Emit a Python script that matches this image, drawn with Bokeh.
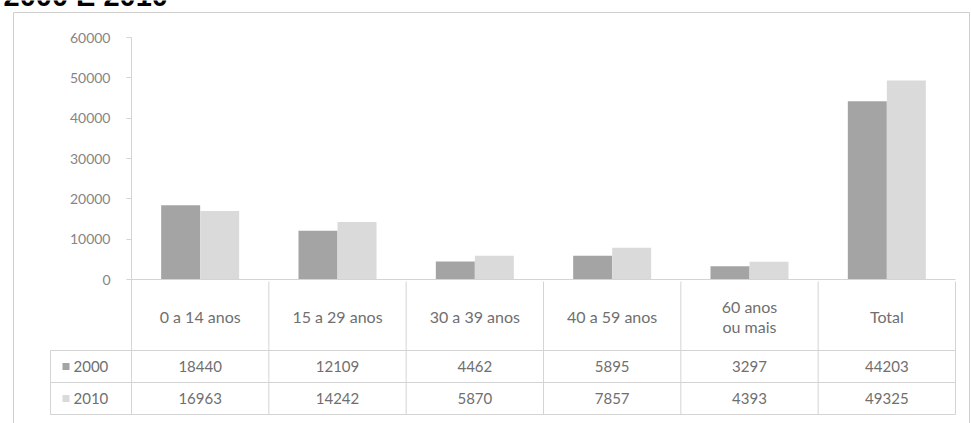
from bokeh.plotting import figure
from bokeh.models import ColumnDataSource, Range1d, FixedTicker, LinearAxis
from bokeh.transform import dodge
from bokeh.core.properties import value
from bokeh.embed import file_html
from bokeh.resources import INLINE

# ---------------- data ----------------
title = "2000 E 2010"
categories = ["0 a 14 anos", "15 a 29 anos", "30 a 39 anos", "40 a 59 anos",
              "60 anos\nou mais", "Total"]
years = ["2000", "2010"]
values_2000 = [18440, 12109, 4462, 5895, 3297, 44203]
values_2010 = [16963, 14242, 5870, 7857, 4393, 49325]
y_ticks = [0, 10000, 20000, 30000, 40000, 50000, 60000]

# ---------------- layout (pixels) ----------------
W, H = 971, 423
PL, PR, PT, PB = 131, 955, 37, 414      # plot-area edges
ZERO = 279                               # pixel row of value 0
Y_MAX = 60000
N = len(categories)


def xd(px):
    """canvas pixel column -> category-axis units"""
    return (px - PL) / (PR - PL) * N


def vd(py):
    """canvas pixel row -> value units"""
    return (ZERO - py) / (ZERO - PT) * Y_MAX


HEAD_Y, ROW1_Y, ROW2_Y = 316, 366, 398   # table row centres
LINE_Y = [350, 382, 414]                 # table horizontal rules
TBL_TOP = 281
TBL_LEFT = 50
TITLE_Y = -5                             # heading sits mostly above the page edge

C_DARK = "#a4a4a4"
C_LIGHT = "#dadada"
C_TEXT = "#6f6f6f"
C_AXTXT = "#858585"
C_LINE = "#d4d4d4"
FONT = "Lato"

# frame covers the whole canvas; default y range is pixel rows, values use "val"
p = figure(width=W, height=H,
           x_range=Range1d(xd(0), xd(W)),
           y_range=Range1d(H, 0),
           output_backend="svg", toolbar_location=None,
           x_axis_location=None, y_axis_location=None, min_border=0)
p.extra_y_ranges = {"val": Range1d(vd(H), vd(0))}

p.xgrid.visible = False
p.ygrid.visible = False
p.outline_line_color = None
p.background_fill_color = "white"
p.border_fill_color = "white"

ax = LinearAxis(y_range_name="val", ticker=FixedTicker(ticks=y_ticks),
                fixed_location=0, bounds=(vd(PB), Y_MAX))
ax.axis_line_color = C_LINE
ax.major_tick_line_color = C_LINE
ax.major_tick_out = 5
ax.major_tick_in = 0
ax.minor_tick_line_color = None
ax.major_label_standoff = 16
ax.major_label_text_font = FONT
ax.major_label_text_font_size = "14px"
ax.major_label_text_color = C_AXTXT
p.add_layout(ax, "left")

src = ColumnDataSource(dict(xi=[i + 0.5 for i in range(N)], cat=categories,
                            y2000=values_2000, y2010=values_2010,
                            t2000=[str(v) for v in values_2000],
                            t2010=[str(v) for v in values_2010]))

BW = 0.284
p.vbar(x=dodge("xi", -BW / 2), top="y2000", bottom=0, width=BW, y_range_name="val",
       source=src, fill_color=C_DARK, line_color=None)
p.vbar(x=dodge("xi", BW / 2), top="y2010", bottom=0, width=BW, y_range_name="val",
       source=src, fill_color=C_LIGHT, line_color=None)

# zero line / table top
p.segment(x0=0, x1=N, y0=0, y1=0, y_range_name="val", line_color=C_LINE, line_width=1)

# table vertical rules at category boundaries
p.segment(x0=dodge("xi", 0.5), x1=dodge("xi", 0.5),
          y0=TBL_TOP, y1=PB, source=src, line_color=C_LINE, line_width=1)

# table horizontal rules (extend left over the legend column) + left edge
p.segment(x0=xd(TBL_LEFT), x1=N, y0=LINE_Y, y1=LINE_Y, line_color=C_LINE, line_width=1)
p.segment(x0=xd(TBL_LEFT), x1=xd(TBL_LEFT), y0=LINE_Y[0], y1=PB,
          line_color=C_LINE, line_width=1)

# header + values
p.text(x="xi", y=HEAD_Y, text="cat", source=src,
       text_align="center", text_baseline="middle", text_color=C_TEXT,
       text_font=value(FONT), text_font_size="16px", text_line_height=1.1)
p.text(x="xi", y=ROW1_Y, text="t2000", source=src,
       text_align="center", text_baseline="middle", text_color=C_TEXT,
       text_font=value(FONT), text_font_size="15px")
p.text(x="xi", y=ROW2_Y, text="t2010", source=src,
       text_align="center", text_baseline="middle", text_color=C_TEXT,
       text_font=value(FONT), text_font_size="15px")

# row legend keys and labels
leg = ColumnDataSource(dict(x=[xd(65.5)] * 2, tx=[xd(73)] * 2, y=[ROW1_Y, ROW2_Y],
                            year=years, kc=[C_DARK, C_LIGHT]))
p.scatter(x="x", y="y", source=leg, marker="square", size=7,
          fill_color="kc", line_color=None)
p.text(x="tx", y="y", text="year", source=leg, text_color=C_TEXT,
       text_font=value(FONT), text_font_size="15px",
       text_baseline="middle", text_align="left")

# outer chart border
p.multi_line(xs=[[xd(13), xd(13), xd(969), xd(969)]], ys=[[H + 5, 12, 12, H + 5]],
             line_color="#cfcfcf", line_width=1)

# heading, cut off by the top edge as in the source image
p.text(x=[xd(3)], y=[TITLE_Y], text=[title], text_font=value("Liberation Sans"),
       text_font_style="bold", text_font_size="29px", text_color="black",
       text_baseline="alphabetic", text_align="left")

open("out.html", "w").write(file_html(p, INLINE))
